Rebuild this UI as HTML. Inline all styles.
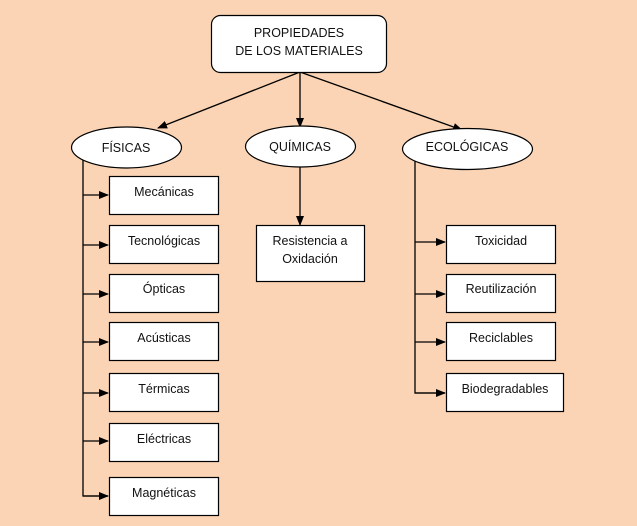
<!DOCTYPE html>
<html><head><meta charset="utf-8"><style>
html,body{margin:0;padding:0;background:#fad4b4;}
svg{display:block}
text{font-family:"Liberation Sans",sans-serif;font-size:12.5px;fill:#111;text-anchor:middle}
</style></head><body>
<svg width="637" height="526" viewBox="0 0 637 526" xmlns="http://www.w3.org/2000/svg">
<defs><marker id="a" markerWidth="10" markerHeight="8" refX="9" refY="4" orient="auto" markerUnits="userSpaceOnUse"><path d="M0,0L10,4L0,8z" fill="#000"/></marker></defs>
<rect width="637" height="526" fill="#fad4b4"/>
<g stroke="#000" stroke-width="1.3" fill="none">
<line x1="300" y1="72" x2="158" y2="128" marker-end="url(#a)"/>
<line x1="300" y1="72" x2="300" y2="127" marker-end="url(#a)"/>
<line x1="300" y1="72" x2="462" y2="130" marker-end="url(#a)"/>
<line x1="300" y1="167" x2="300" y2="225" marker-end="url(#a)"/>
<polyline points="83,160 83,496 108,496"/>
<polyline points="415,161 415,393 445,393"/>
<line x1="83" y1="195" x2="108" y2="195" marker-end="url(#a)"/>
<line x1="83" y1="245" x2="108" y2="245" marker-end="url(#a)"/>
<line x1="83" y1="294" x2="108" y2="294" marker-end="url(#a)"/>
<line x1="83" y1="342" x2="108" y2="342" marker-end="url(#a)"/>
<line x1="83" y1="393" x2="108" y2="393" marker-end="url(#a)"/>
<line x1="83" y1="441" x2="108" y2="441" marker-end="url(#a)"/>
<line x1="83" y1="496" x2="108" y2="496" marker-end="url(#a)"/>
<line x1="415" y1="242" x2="445" y2="242" marker-end="url(#a)"/>
<line x1="415" y1="294" x2="445" y2="294" marker-end="url(#a)"/>
<line x1="415" y1="342" x2="445" y2="342" marker-end="url(#a)"/>
<line x1="415" y1="393" x2="445" y2="393" marker-end="url(#a)"/>
</g>
<g stroke="#000" stroke-width="1.2" fill="#fff">
<rect x="211.5" y="15.5" width="175" height="57" rx="9"/>
<ellipse cx="126.5" cy="147.5" rx="55" ry="20.5"/>
<ellipse cx="300.5" cy="146.5" rx="55" ry="20.5"/>
<ellipse cx="467.5" cy="149" rx="65" ry="20.5"/>
<rect x="109.5" y="176.5" width="109" height="38"/>
<rect x="109.5" y="225.5" width="109" height="38"/>
<rect x="109.5" y="274.5" width="109" height="38"/>
<rect x="109.5" y="322.5" width="109" height="38"/>
<rect x="109.5" y="373.5" width="109" height="38"/>
<rect x="109.5" y="423.5" width="109" height="38"/>
<rect x="109.5" y="477.5" width="109" height="38"/>
<rect x="256.5" y="225.5" width="108" height="56"/>
<rect x="446.5" y="225.5" width="109" height="38"/>
<rect x="446.5" y="274.5" width="109" height="38"/>
<rect x="446.5" y="322.5" width="109" height="38"/>
<rect x="446.5" y="373.5" width="117" height="38"/>
</g>
<text x="299" y="37">PROPIEDADES</text>
<text x="299" y="55">DE LOS MATERIALES</text>
<text x="126" y="152">FÍSICAS</text>
<text x="300" y="151">QUÍMICAS</text>
<text x="467" y="151">ECOLÓGICAS</text>
<text x="164" y="196">Mecánicas</text>
<text x="164" y="245">Tecnológicas</text>
<text x="164" y="293">Ópticas</text>
<text x="164" y="342">Acústicas</text>
<text x="164" y="393">Térmicas</text>
<text x="164" y="443">Eléctricas</text>
<text x="164" y="497">Magnéticas</text>
<text x="310" y="245">Resistencia a</text>
<text x="310" y="263">Oxidación</text>
<text x="501" y="245">Toxicidad</text>
<text x="501" y="293">Reutilización</text>
<text x="501" y="342">Reciclables</text>
<text x="505" y="393">Biodegradables</text>
</svg>
</body></html>
